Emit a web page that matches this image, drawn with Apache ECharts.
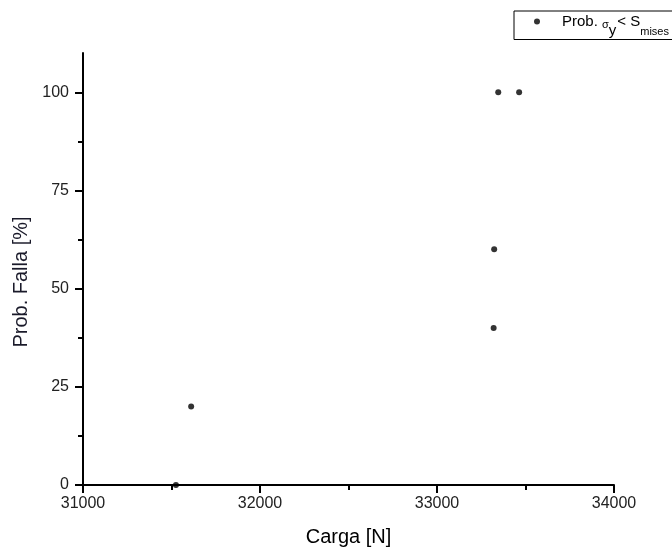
<!DOCTYPE html>
<html>
<head>
<meta charset="utf-8">
<script src="https://cdn.jsdelivr.net/npm/echarts@6/dist/echarts.min.js"></script>
<style>
  html, body { margin: 0; padding: 0; background: #fff; }
  #chart { width: 672px; height: 547px; }
</style>
</head>
<body>
<div id="chart"></div>
<script>
// Failure probability versus applied load
const cargaN = [31525, 31611, 33320, 33323, 33346, 33464];
const probFalla = [0, 20, 40, 60, 100, 100];
const xMajorTicks = [31000, 32000, 33000, 34000];
const xMinorTicks = [31500, 32500, 33500];
const yMajorTicks = [0, 25, 50, 75, 100];
const yMinorTicks = [12.5, 37.5, 62.5, 87.5];
const seriesName = 'Prob. σy < Smises';

const points = cargaN.map((c, i) => [c, probFalla[i]]);

const font = 'Liberation Sans, Arial, sans-serif';
const ink = '#000';
const labelInk = '#222';
const plain = v => String(v);

const chart = echarts.init(document.getElementById('chart'), null, { renderer: 'canvas' });

chart.setOption({
  backgroundColor: '#fff',
  animation: false,
  grid: { left: 83, right: 58, top: 53, bottom: 62, containLabel: false, outerBoundsMode: 'none' },
  legend: {
    left: 514,
    top: 11,
    orient: 'horizontal',
    padding: [3, 40, 1, 20],
    borderColor: '#000',
    borderWidth: 1,
    borderRadius: 0,
    itemWidth: 40,
    itemHeight: 6,
    data: [{ name: seriesName, icon: 'circle' }],
    formatter: () => '{a|Prob. }{g|σ}{y|y}{a|< S}{m|mises}',
    textStyle: {
      fontFamily: font,
      color: ink,
      rich: {
        a: { fontSize: 15, fontFamily: font, color: ink, height: 22, verticalAlign: 'middle' },
        g: { fontSize: 11, fontFamily: font, color: ink, verticalAlign: 'bottom', padding: [0, 0, 2, 0] },
        y: { fontSize: 15, fontFamily: font, color: ink, verticalAlign: 'bottom', padding: [0, 1, -6, 0] },
        m: { fontSize: 11, fontFamily: font, color: ink, verticalAlign: 'bottom', padding: [0, 0, -5, 0] }
      }
    }
  },
  xAxis: [
    {
      type: 'value',
      position: 'bottom',
      min: 31000,
      max: 34000,
      interval: 1000,
      name: 'Carga [N]',
      nameLocation: 'middle',
      nameGap: 42,
      nameTextStyle: { fontFamily: font, fontSize: 20, color: ink },
      splitLine: { show: false },
      axisLine: { show: true, onZero: false, lineStyle: { color: ink, width: 2 } },
      axisTick: { show: true, customValues: xMajorTicks, length: 8, lineStyle: { color: ink, width: 2 } },
      axisLabel: { customValues: xMajorTicks, formatter: plain, margin: 11, fontFamily: font, fontSize: 16, color: labelInk }
    },
    {
      type: 'value',
      position: 'bottom',
      min: 31000,
      max: 34000,
      interval: 500,
      splitLine: { show: false },
      axisLine: { show: false, onZero: false },
      axisTick: { show: true, customValues: xMinorTicks, length: 5, lineStyle: { color: ink, width: 2 } },
      axisLabel: { show: false }
    }
  ],
  yAxis: [
    {
      type: 'value',
      position: 'left',
      min: 0,
      max: 110,
      interval: 25,
      name: 'Prob. Falla [%]',
      nameLocation: 'middle',
      nameGap: 48,
      nameTextStyle: { fontFamily: font, fontSize: 20, color: '#1a1a2a', padding: [0, 0, 0, -26] },
      splitLine: { show: false },
      axisLine: { show: true, onZero: false, lineStyle: { color: ink, width: 2 } },
      axisTick: { show: true, customValues: yMajorTicks, length: 8, lineStyle: { color: ink, width: 2 } },
      axisLabel: { customValues: yMajorTicks, formatter: plain, margin: 14, fontFamily: font, fontSize: 16, color: labelInk }
    },
    {
      type: 'value',
      position: 'left',
      min: 0,
      max: 110,
      splitLine: { show: false },
      axisLine: { show: false, onZero: false },
      axisTick: { show: true, customValues: yMinorTicks, length: 5, lineStyle: { color: ink, width: 2 } },
      axisLabel: { show: false }
    }
  ],
  series: [
    {
      name: seriesName,
      type: 'scatter',
      xAxisIndex: 0,
      yAxisIndex: 0,
      data: points,
      symbol: 'circle',
      symbolSize: 6,
      clip: true,
      itemStyle: { color: '#000' },
      z: 1
    }
  ]
});
</script>
</body>
</html>
